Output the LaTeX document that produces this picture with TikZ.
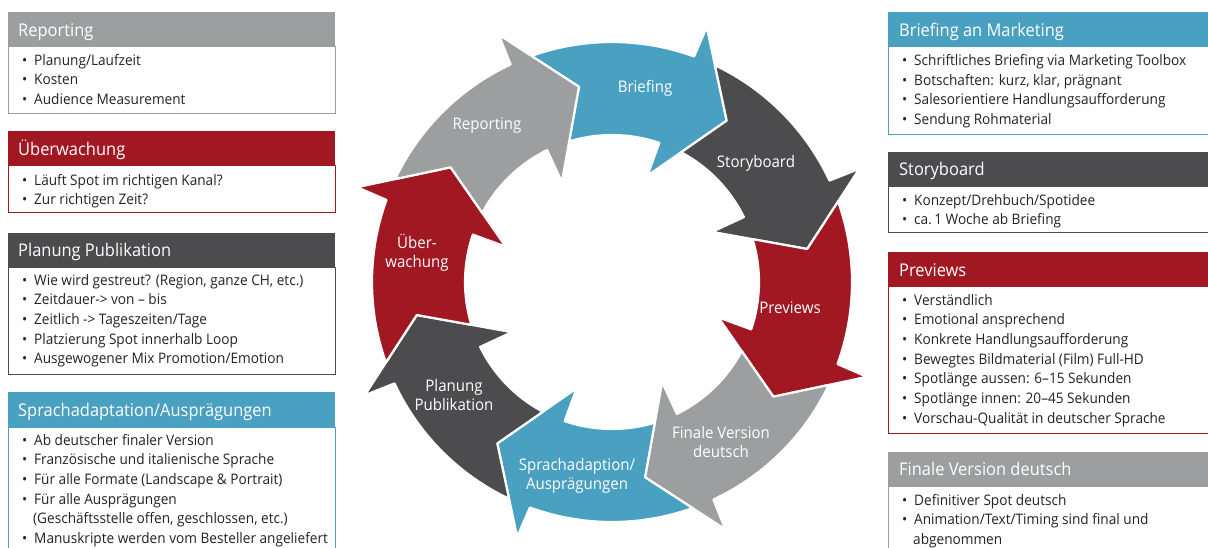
\documentclass[tikz,border=0pt]{standalone}
\usepackage{fontspec}
\setmainfont{Open Sans}[FakeStretch=0.94]
\definecolor{cblue}{RGB}{74,160,192}
\definecolor{cgray}{RGB}{157,158,160}
\definecolor{cdark}{RGB}{76,76,78}
\definecolor{cred}{RGB}{161,24,35}
\definecolor{ctext}{RGB}{35,35,35}
\tikzset{
  ttl/.style={anchor=base west, inner sep=0pt, text=white, font=\fontsize{17.5}{20}\selectfont},
  bod/.style={anchor=base west, inner sep=0pt, text=ctext, font=\fontsize{14.5}{18}\selectfont},
  lbl/.style={inner sep=0pt, text=white, font=\fontsize{16}{19.5}\selectfont, align=center},
  arr/.style={draw=white, line width=2.2pt, line join=round},
}
\newcommand{\bline}[4]{\node[bod] (#1b) at (#2,#3) {\textbullet}; \node[bod] (#1) at (#2+12,#3) {#4};}
\newcommand{\cycarrow}[2]{%
 \pgfmathsetmacro\aA{#1+55}%
 \pgfmathsetmacro\aB{#1+15.4}%
 \pgfmathsetmacro\aC{#1+15}%
 \pgfmathsetmacro\aD{#1+17}%
 \pgfmathsetmacro\aE{#1+16.6}%
 \pgfmathsetmacro\aF{#1+52.35}%
 \pgfmathsetmacro\aG{#1+45}%
 \filldraw[arr, fill=#2] (\aA:240pt) arc[start angle=\aA, end angle=\aB, radius=240pt] -- (\aC:272pt) -- (#1:198pt) -- (\aD:112pt) -- (\aE:147pt) arc[start angle=\aE, end angle=\aF, radius=147pt] -- (\aG:198pt) -- cycle;
}
\begin{document}
\begin{tikzpicture}[x=1pt,y=-1pt]
\useasboundingbox (0,0) rectangle (1208,547);
\clip (0,0) rectangle (1208,547);
\fill[white] (0,0) rectangle (1208,547);

% ---- cycle ----
\begin{scope}[shift={(612,282)}]
\cycarrow{54.6}{cblue}
\cycarrow{9.6}{cdark}
\cycarrow{-35.4}{cred}
\cycarrow{-80.4}{cgray}
\cycarrow{-125.4}{cblue}
\cycarrow{-170.4}{cdark}
\cycarrow{-215.4}{cred}
\cycarrow{-260.4}{cgray}
\end{scope}
\node[lbl] (cBrief) at (645,88) {Briefing};
\node[lbl] (cRep) at (487,126) {Reporting};
\node[lbl] (cStory) at (756,163) {Storyboard};
\node[lbl] (cUeb) at (417,253) {Über-\\wachung};
\node[lbl] (cPrev) at (790,308) {Previews};
\node[lbl] (cPlan) at (454,395) {Planung\\Publikation};
\node[lbl] (cSpr) at (577,476) {Sprachadaption/\\Ausprägungen};
\node[lbl] (cFin) at (721,442) {Finale Version\\deutsch};

% ---- left boxes ----
\fill[cgray] (8,12) rectangle (335,46);
\draw[cgray, line width=1pt] (8,46) rectangle (335,113);
\node[ttl] (tRep) at (18,36) {Reporting};
\bline{r1}{22}{65}{Planung/Laufzeit}
\bline{r2}{22}{84.7}{Kosten}
\bline{r3}{22}{104.4}{Audience Measurement}

\fill[cred] (8,131) rectangle (335,165);
\draw[cred, line width=1pt] (8,165) rectangle (335,212);
\node[ttl] (tUeb) at (18,155) {Überwachung};
\bline{u1}{22}{185}{Läuft Spot im richtigen Kanal?}
\bline{u2}{22}{204.7}{Zur richtigen Zeit?}

\fill[cdark] (8,233) rectangle (335,267);
\draw[cdark, line width=1pt] (8,267) rectangle (335,374);
\node[ttl] (tPlan) at (18,256.7) {Planung Publikation};
\bline{p1}{22}{285}{Wie wird gestreut? (Region, ganze CH, etc.)}
\bline{p2}{22}{304.7}{Zeitdauer-> von – bis}
\bline{p3}{22}{324.4}{Zeitlich -> Tageszeiten/Tage}
\bline{p4}{22}{344.1}{Platzierung Spot innerhalb Loop}
\bline{p5}{22}{363.8}{Ausgewogener Mix Promotion/Emotion}

\fill[cblue] (8,392) rectangle (335,427);
\draw[cblue, line width=1pt] (8,427) rectangle (335,560);
\node[ttl] (tSpr) at (18,416.7) {Sprachadaptation/Ausprägungen};
\bline{s1}{22}{445}{Ab deutscher finaler Version}
\bline{s2}{22}{464.7}{Französische und italienische Sprache}
\bline{s3}{22}{484.4}{Für alle Formate (Landscape \& Portrait)}
\bline{s4}{22}{504.1}{Für alle Ausprägungen}
\node[bod] (s4c) at (33,523.8) {(Geschäftsstelle offen, geschlossen, etc.)};
\bline{s5}{22}{543.5}{Manuskripte werden vom Besteller angeliefert}

% ---- right boxes ----
\fill[cblue] (888,12) rectangle (1215,46);
\draw[cblue, line width=1pt] (888,46) rectangle (1215,134);
\node[ttl] (tBrief) at (899,36) {Briefing an Marketing};
\bline{b1}{902}{65.5}{Schriftliches Briefing via Marketing Toolbox}
\bline{b2}{902}{85.2}{Botschaften: kurz, klar, prägnant}
\bline{b3}{902}{104.9}{Salesorientiere Handlungsaufforderung}
\bline{b4}{902}{124.6}{Sendung Rohmaterial}

\fill[cdark] (888,152) rectangle (1215,186);
\draw[cdark, line width=1pt] (888,186) rectangle (1215,232);
\node[ttl] (tStory) at (899,175.7) {Storyboard};
\bline{st1}{902}{205}{Konzept/Drehbuch/Spotidee}
\bline{st2}{902}{224.7}{ca.\,1 Woche ab Briefing}

\fill[cred] (888,252) rectangle (1215,286);
\draw[cred, line width=1pt] (888,286) rectangle (1215,433);
\node[ttl] (tPrev) at (899,276) {Previews};
\bline{v1}{902}{305}{Verständlich}
\bline{v2}{902}{324.7}{Emotional ansprechend}
\bline{v3}{902}{344.4}{Konkrete Handlungsaufforderung}
\bline{v4}{902}{364.1}{Bewegtes Bildmaterial (Film) Full-HD}
\bline{v5}{902}{383.8}{Spotlänge aussen: 6–15 Sekunden}
\bline{v6}{902}{403.5}{Spotlänge innen: 20–45 Sekunden}
\bline{v7}{902}{423.2}{Vorschau-Qualität in deutscher Sprache}

\fill[cgray] (888,452) rectangle (1215,486);
\draw[cgray, line width=1pt] (888,486) rectangle (1215,560);
\node[ttl] (tFin) at (899,475) {Finale Version deutsch};
\bline{f1}{902}{505}{Definitiver Spot deutsch}
\bline{f2}{902}{524.7}{Animation/Text/Timing sind final und}
\node[bod] (f2c) at (913,544.4) {abgenommen};
\end{tikzpicture}
\end{document}
